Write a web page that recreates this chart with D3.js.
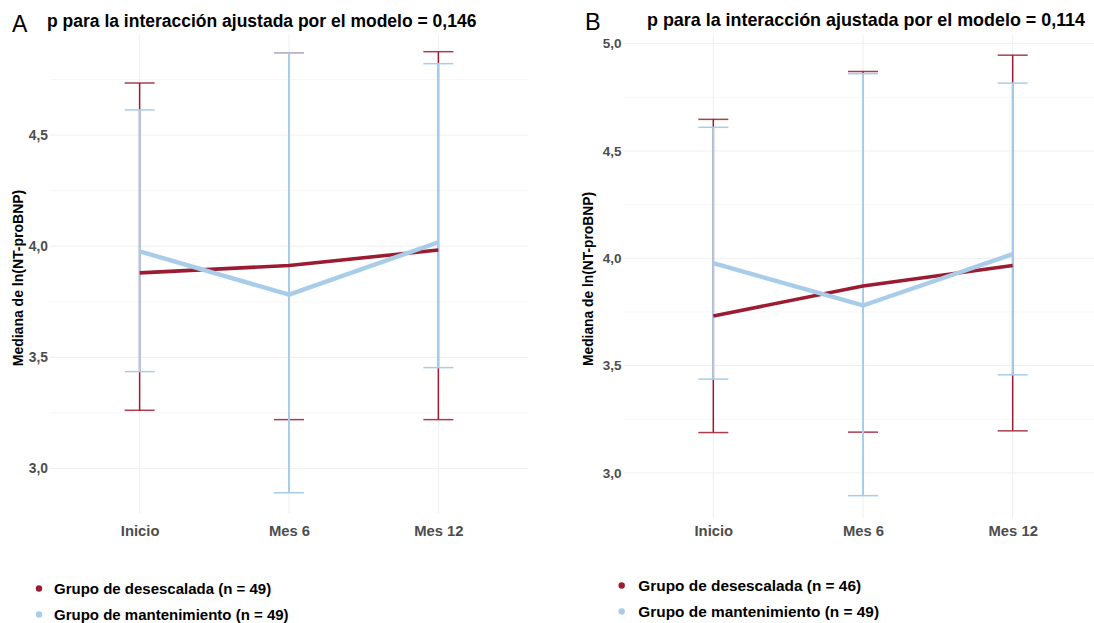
<!DOCTYPE html>
<html>
<head>
<meta charset="utf-8">
<script src="https://cdn.jsdelivr.net/npm/d3@7"></script>
<style>
  html, body { margin: 0; padding: 0; background: #fff; }
  svg { display: block; font-family: "Liberation Sans", Arial, Helvetica, sans-serif; }
</style>
</head>
<body>
<svg id="chart" width="1094" height="623"></svg>
<script>
// Time points
const categories = ["Inicio", "Mes 6", "Mes 12"];
const yTicks = [3.0, 3.5, 4.0, 4.5, 5.0];

// Panel A: median ln(NT-proBNP) with interval bounds
const aDesMedian = [3.88, 3.913, 3.983];
const aDesLower  = [3.262, 3.22, 3.22];
const aDesUpper  = [4.734, 4.868, 4.875];
const aManMedian = [3.977, 3.782, 4.018];
const aManLower  = [3.436, 2.891, 3.454];
const aManUpper  = [4.613, 4.868, 4.821];

// Panel B
const bDesMedian = [3.731, 3.871, 3.966];
const bDesLower  = [3.188, 3.19, 3.196];
const bDesUpper  = [4.647, 4.87, 4.946];
const bManMedian = [3.977, 3.78, 4.019];
const bManLower  = [3.437, 2.894, 3.457];
const bManUpper  = [4.61, 4.86, 4.816];

const aLegend = ["Grupo de desescalada (n = 49)", "Grupo de mantenimiento (n = 49)"];
const bLegend = ["Grupo de desescalada (n = 46)", "Grupo de mantenimiento (n = 49)"];

const RED = "#9b1b30";
const BLUE = "#a9cde9";
const fmt = v => d3.format(".1f")(v).replace(".", ",");

const svg = d3.select("#chart");

function series(median, lower, upper) {
  return categories.map((c, i) => ({ cat: c, m: median[i], lo: lower[i], hi: upper[i] }));
}

function panel(opt) {
  const g = svg.append("g");
  const x = d3.scalePoint().domain(categories).range(opt.xRange).padding(0.6);
  const y = d3.scaleLinear().domain(opt.yDomain).range(opt.yRange);
  const [x0, x1] = opt.xRange;
  const [yb, yt] = opt.yRange;

  // minor grid halfway between labelled ticks
  const minor = d3.range(2.75, 5.25, 0.5)
    .filter(v => v > opt.yDomain[0] && v < opt.yDomain[1]);
  g.selectAll(".minor").data(minor).join("line")
    .attr("x1", x0).attr("x2", x1)
    .attr("y1", d => y(d)).attr("y2", d => y(d))
    .attr("stroke", "#f5f5f5").attr("stroke-width", 0.8);

  // major grid
  const ticks = yTicks.filter(v => v >= opt.yDomain[0] && v <= opt.yDomain[1]);
  g.selectAll(".major").data(ticks).join("line")
    .attr("x1", x0).attr("x2", x1)
    .attr("y1", d => y(d)).attr("y2", d => y(d))
    .attr("stroke", "#eeeeee").attr("stroke-width", 1);
  g.selectAll(".vgrid").data(categories).join("line")
    .attr("x1", d => x(d)).attr("x2", d => x(d))
    .attr("y1", yt).attr("y2", yb)
    .attr("stroke", "#eeeeee").attr("stroke-width", 1);

  // y axis labels
  const yAxis = d3.axisLeft(y).tickValues(ticks).tickFormat(fmt).tickSize(0).tickPadding(0);
  const ya = g.append("g").attr("transform", `translate(${x0 - 2},0)`).call(yAxis);
  ya.select(".domain").remove();
  ya.selectAll("text").attr("fill", "#4d4d4d").attr("font-weight", "bold")
    .style("font-size", opt.tickSize + "px").style("font-family", "Liberation Sans, Arial, sans-serif");

  // x axis labels
  const xAxis = d3.axisBottom(x).tickSize(0).tickPadding(0);
  const xa = g.append("g").attr("transform", `translate(0,${opt.xLabelY})`).call(xAxis);
  xa.select(".domain").remove();
  xa.selectAll("text").attr("fill", "#4d4d4d").attr("font-weight", "bold").attr("dy", 0)
    .style("font-size", opt.xTickSize + "px").style("font-family", "Liberation Sans, Arial, sans-serif");

  // y axis title
  g.append("text")
    .attr("transform", `translate(${opt.yTitleX},${opt.yTitleY}) rotate(-90)`)
    .attr("text-anchor", "middle").attr("font-weight", "bold")
    .attr("font-size", opt.yTitleSize).attr("fill", "#000")
    .text("Mediana de ln(NT-proBNP)");

  const groups = [
    { data: series(...opt.des), color: RED, ebw: 1.5, lw: 3.6, capOpacity: 0.85 },
    { data: series(...opt.man), color: BLUE, ebw: 2, lw: 4.4, capOpacity: 1 }
  ];
  const cap = 15;

  // error bars
  groups.forEach(s => {
    const eb = g.append("g");
    eb.selectAll(".v").data(s.data).join("line")
      .attr("x1", d => x(d.cat)).attr("x2", d => x(d.cat))
      .attr("y1", d => y(d.lo)).attr("y2", d => y(d.hi))
      .attr("stroke", s.color).attr("stroke-width", s.ebw);
    eb.selectAll(".lo").data(s.data).join("line")
      .attr("x1", d => x(d.cat) - cap).attr("x2", d => x(d.cat) + cap)
      .attr("y1", d => y(d.lo)).attr("y2", d => y(d.lo))
      .attr("stroke", s.color).attr("stroke-width", 1.5).attr("stroke-opacity", s.capOpacity);
    eb.selectAll(".hi").data(s.data).join("line")
      .attr("x1", d => x(d.cat) - cap).attr("x2", d => x(d.cat) + cap)
      .attr("y1", d => y(d.hi)).attr("y2", d => y(d.hi))
      .attr("stroke", s.color).attr("stroke-width", 1.5).attr("stroke-opacity", s.capOpacity);
  });

  // median lines
  const line = d3.line().x(d => x(d.cat)).y(d => y(d.m));
  groups.forEach(s => {
    g.append("path").datum(s.data).attr("d", line)
      .attr("fill", "none").attr("stroke", s.color)
      .attr("stroke-width", s.lw).attr("stroke-linejoin", "round");
  });

  // panel letter and title
  g.append("text").attr("x", opt.letterX).attr("y", opt.letterY)
    .attr("font-size", opt.letterSize).attr("fill", "#000").text(opt.letter);
  g.append("text").attr("x", opt.titleX).attr("y", opt.titleY)
    .attr("font-size", opt.titleSize).attr("font-weight", "bold").attr("fill", "#000")
    .text(opt.title);

  // legend
  const lg = g.append("g");
  [RED, BLUE].forEach((c, i) => {
    lg.append("circle").attr("cx", opt.legX).attr("cy", opt.legY[i] - 5.5).attr("r", 3.2).attr("fill", c);
    lg.append("text").attr("x", opt.legTextX).attr("y", opt.legY[i])
      .attr("font-size", opt.legSize).attr("font-weight", "bold").attr("fill", "#000")
      .text(opt.legend[i]);
  });
}

panel({
  xRange: [50, 528], yDomain: [2.8, 4.95], yRange: [513, 35],
  des: [aDesMedian, aDesLower, aDesUpper], man: [aManMedian, aManLower, aManUpper],
  tickSize: 13.8, xTickSize: 14.8, xLabelY: 536,
  yTitleX: 23, yTitleY: 278, yTitleSize: 14,
  letter: "A", letterX: 12, letterY: 31.5, letterSize: 23,
  title: "p para la interacción ajustada por el modelo = 0,146", titleX: 47, titleY: 26.5, titleSize: 17.5,
  legend: aLegend, legX: 39, legTextX: 54, legY: [594, 620], legSize: 15
});

panel({
  xRange: [623.5, 1102.5], yDomain: [2.79, 5.04], yRange: [518, 35],
  des: [bDesMedian, bDesLower, bDesUpper], man: [bManMedian, bManLower, bManUpper],
  tickSize: 13.5, xTickSize: 14.8, xLabelY: 536,
  yTitleX: 593, yTitleY: 279, yTitleSize: 13.8,
  letter: "B", letterX: 585, letterY: 30, letterSize: 23.5,
  title: "p para la interacción ajustada por el modelo = 0,114", titleX: 647, titleY: 26, titleSize: 17.9,
  legend: bLegend, legX: 621.7, legTextX: 638.3, legY: [591, 617], legSize: 15.4
});
</script>
</body>
</html>
